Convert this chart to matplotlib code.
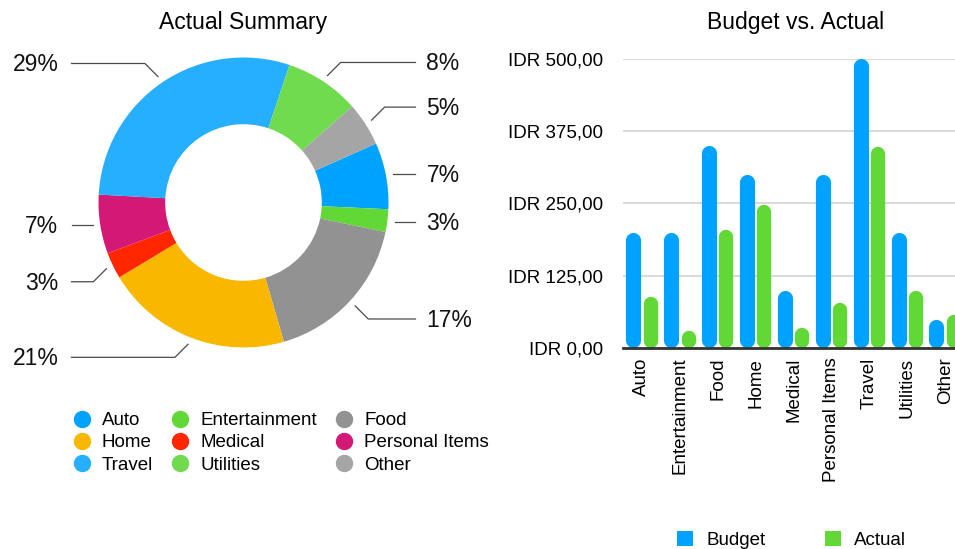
import matplotlib
matplotlib.use('Agg')
import matplotlib.pyplot as plt
import numpy as np
from matplotlib.patches import Patch
from matplotlib.lines import Line2D

plt.rcParams['font.family'] = ['Liberation Sans', 'DejaVu Sans']

# ---------------- data ----------------
categories = ['Auto', 'Entertainment', 'Food', 'Home', 'Medical',
              'Personal Items', 'Travel', 'Utilities', 'Other']
budget = [200, 200, 350, 300, 100, 300, 500, 200, 50]
actual = [88, 30, 205, 248, 35, 78, 348, 99, 58]
pie_colors = ['#00A2FF', '#61D836', '#929292', '#FAB700', '#FF2600',
              '#D41876', '#26AEFF', '#70DB4F', '#A5A5A5']
budget_color = '#00A2FF'
actual_color = '#61D836'
yticks = [0, 125, 250, 375, 500]
ytick_labels = ['IDR 0,00', 'IDR 125,00', 'IDR 250,00', 'IDR 375,00', 'IDR 500,00']

W, H = 955, 549
fig = plt.figure(figsize=(W / 100, H / 100), dpi=100)


def fx(px):
    return px / W


def fy(py):
    return 1 - py / H


# ---------------- donut ----------------
cx, cy, R = 243.5, 202.5, 145.0
L = 200.0
axp = fig.add_axes([fx(cx - L), fy(cy + L), 2 * L / W, 2 * L / H])
total = float(sum(actual))
first_boundary = 18.5  # deg clockwise from top
auto_start = first_boundary + 360.0 * (actual[-1] + actual[-2]) / total
wedges, _ = axp.pie(actual, colors=pie_colors, startangle=90 - auto_start,
                    counterclock=False, radius=1.0,
                    wedgeprops=dict(width=0.46, linewidth=0))
lim = L / R
axp.set_xlim(-lim, lim)
axp.set_ylim(-lim, lim)
axp.set_aspect('equal')
axp.axis('off')

e = 0.09
for w, v in zip(wedges, actual):
    mid = np.radians((w.theta1 + w.theta2) / 2)
    c, s = np.cos(mid), np.sin(mid)
    side = 1 if c >= 0 else -1
    x0, y0 = 1.05 * c, 1.05 * s
    if abs(s) > 0.35:
        x1, y1 = x0 + side * e, y0 + np.sign(s) * e
    else:
        x1, y1 = x0, y0
    xe = side * 1.186
    axp.plot([x0, x1, xe], [y0, y1, y1], color='#4a4a4a', lw=0.9, clip_on=False)
    pct = round(v / total * 100)
    tx = side * 1.262 if side > 0 else -1.276
    axp.text(tx, y1 - 0.01, f'{pct}%', ha='left' if side > 0 else 'right',
             va='center', fontsize=16.5, color='#111111')

fig.text(fx(243), fy(22), 'Actual Summary', ha='center', va='center', fontsize=16.5)

order = [0, 3, 6, 1, 4, 7, 2, 5, 8]
handles = [Line2D([], [], marker='o', ls='', color=pie_colors[i], markersize=11.5) for i in order]
labels = [categories[i] for i in order]
fig.legend(handles, labels, ncol=3, loc='upper left', bbox_to_anchor=(fx(72.3), fy(412)),
           frameon=False, fontsize=13.5, handlelength=1.0, handletextpad=0.57,
           columnspacing=0.95, labelspacing=0.27, borderpad=0, borderaxespad=0)

# ---------------- bars ----------------
left_px, zero_px, top_px = 623, 348, 58.5
unit_px = 37.9
axb = fig.add_axes([fx(left_px), fy(zero_px), (W - left_px) / W, (zero_px - top_px) / H])
x = np.arange(len(categories))
off, bw = 0.23, 0.40
axb.set_xlim(-0.5, -0.5 + (W - left_px) / unit_px)
axb.set_ylim(0, 500)

p0 = axb.transData.transform((0, 0))
p1 = axb.transData.transform((1, 1))
px_x = p1[0] - p0[0]
px_y = p1[1] - p0[1]
for xs, vals, col, wd in ((x - off, budget, budget_color, bw),
                          (x + off, actual, actual_color, bw * 0.95)):
    lw_pt = wd * px_x * 72 / 100
    r_y = (wd / 2) * px_x / px_y
    for xi, v in zip(xs, vals):
        axb.plot([xi, xi], [r_y, v - r_y], color=col, lw=lw_pt,
                 solid_capstyle='round', zorder=2, clip_on=False)

axb.set_yticks(yticks)
axb.set_yticklabels(ytick_labels)
axb.set_xticks(x)
axb.set_xticklabels(categories, rotation=90, va='top', ha='center')
axb.yaxis.grid(True, color='#D0D0D0', lw=1.1)
axb.set_axisbelow(True)
for sp in ('left', 'right', 'top'):
    axb.spines[sp].set_visible(False)
axb.spines['bottom'].set_color('#333333')
axb.spines['bottom'].set_linewidth(2)
axb.spines['bottom'].set_zorder(3)
axb.tick_params(axis='y', length=0, pad=14.4, labelsize=13.5)
axb.tick_params(axis='x', length=0, pad=7, labelsize=13.5)

fig.text(fx(796), fy(22), 'Budget vs. Actual', ha='center', va='center', fontsize=16.5)

bh = [Patch(fc=budget_color), Patch(fc=actual_color)]
fig.legend(bh, ['Budget', 'Actual'], ncol=2, loc='upper left',
           bbox_to_anchor=(fx(677), fy(531)), frameon=False, fontsize=13.5,
           handlelength=0.85, handleheight=0.85, handletextpad=0.7,
           columnspacing=3.2, borderpad=0, borderaxespad=0)

fig.savefig('out.png', dpi=100)
